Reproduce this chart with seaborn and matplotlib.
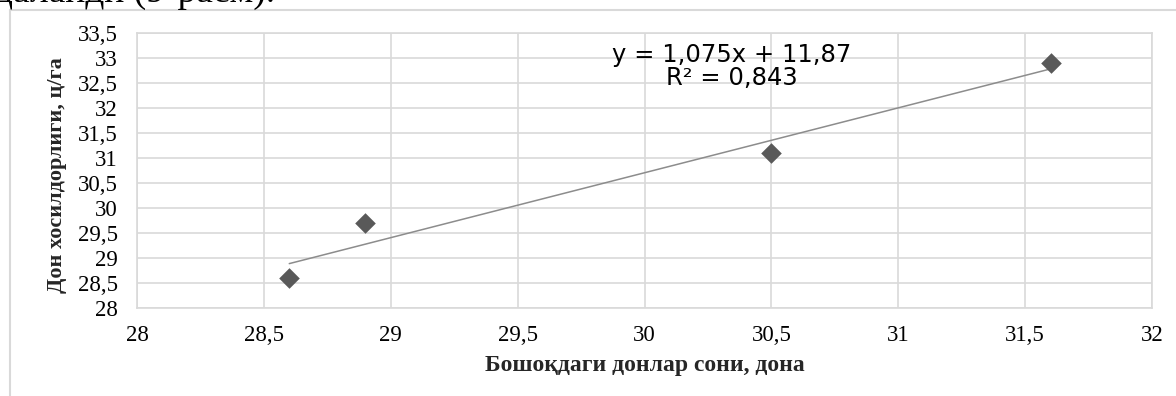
import numpy as np
import pandas as pd
import matplotlib
matplotlib.use("Agg")
import matplotlib.pyplot as plt
import seaborn as sns
from matplotlib.lines import Line2D

# data
grains_per_ear = [28.6, 28.9, 30.5, 31.6]
grain_yield = [28.6, 29.7, 31.1, 32.9]
x_ticks = [28, 28.5, 29, 29.5, 30, 30.5, 31, 31.5, 32]
y_ticks = [28, 28.5, 29, 29.5, 30, 30.5, 31, 31.5, 32, 32.5, 33, 33.5]
equation = "y = 1,075x + 11,87"
r_squared = "R² = 0,843"

df = pd.DataFrame({"x": grains_per_ear, "y": grain_yield})

sns.set_style("white")
plt.rcParams["font.family"] = ["Liberation Serif", "DejaVu Serif"]

fig = plt.figure(figsize=(11.76, 3.96), dpi=100)
ax = fig.add_axes([137 / 1176, 1 - 308 / 396, 1015 / 1176, 275 / 396])

sns.regplot(data=df, x="x", y="y", ax=ax, ci=None, marker="D",
            scatter_kws={"s": 110, "color": "#595959", "alpha": 1, "zorder": 3,
                         "linewidths": 0},
            line_kws={"color": "#8c8c8c", "linewidth": 1.1, "zorder": 2})

ax.set_xlim(28, 32)
ax.set_ylim(28, 33.5)
ax.set_xticks(x_ticks)
ax.set_yticks(y_ticks)
fmt = lambda v: (f"{v:g}").replace(".", ",")
ax.set_xticklabels([fmt(v) for v in x_ticks])
ax.set_yticklabels([fmt(v) for v in y_ticks])
ax.tick_params(axis="both", length=0, labelsize=16.5, colors="black")
ax.tick_params(axis="x", pad=12)
ax.tick_params(axis="y", pad=14)
ax.grid(True, color="#d9d9d9", linewidth=1.2)
ax.set_axisbelow(True)
for s in ax.spines.values():
    s.set_color("#d9d9d9")
    s.set_linewidth(1.2)

ax.set_xlabel("Бошоқдаги донлар сони, дона", fontsize=17, fontweight="bold")
ax.set_ylabel("Дон хосилдорлиги, ц/га", fontsize=16, fontweight="bold")
ax.xaxis.set_label_coords(0.5, -0.17)
ax.yaxis.set_label_coords(-0.069, 0.484)

# trendline label
ax.text(0.586, 0.92, equation, transform=ax.transAxes, ha="center", va="center",
        fontsize=17.5, family=["DejaVu Sans"], color="black")
ax.text(0.586, 0.835, r_squared, transform=ax.transAxes, ha="center", va="center",
        fontsize=17.5, family=["DejaVu Sans"], color="black")

# chart area border (cropped)
fig.add_artist(Line2D([10 / 1176, 1.0], [1 - 10 / 396] * 2, color="#d9d9d9",
                      linewidth=1.5, transform=fig.transFigure))
fig.add_artist(Line2D([10 / 1176] * 2, [0.0, 1 - 10 / 396], color="#d9d9d9",
                      linewidth=1.5, transform=fig.transFigure))

# cropped line of the page text above the chart
fig.text(-0.006, 1 - 2 / 396, "цаланди (9-расм).", fontsize=27, va="baseline",
         ha="left", color="black")

fig.savefig("out.png", dpi=100)
